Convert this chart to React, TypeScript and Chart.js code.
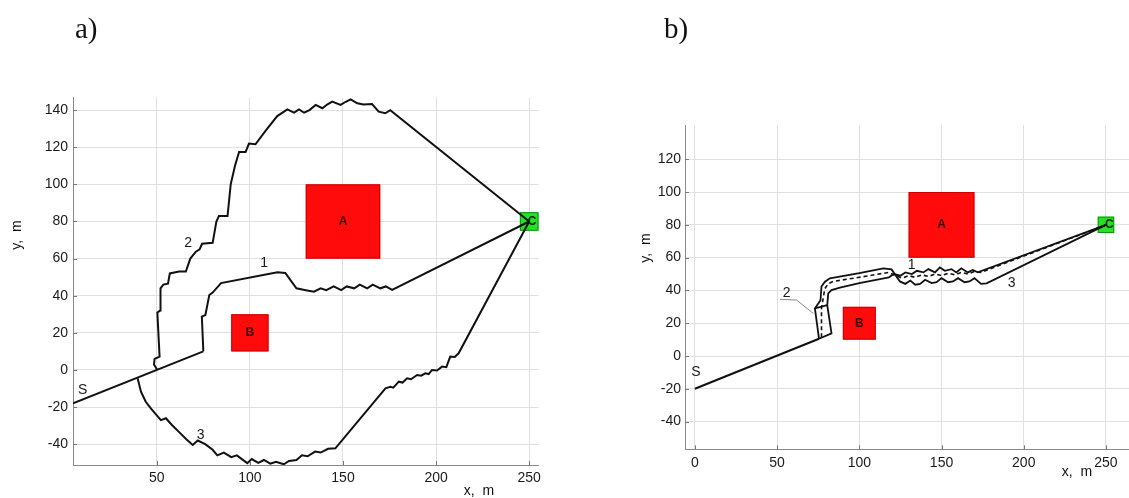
import React, { useEffect, useRef } from 'react';
import { Chart, registerables } from 'chart.js';
Chart.register(...registerables);

type P = [number, number];

// ---------- Panel a ----------
const aXTicks = [50, 100, 150, 200, 250];
const aYTicks = [-40, -20, 0, 20, 40, 60, 80, 100, 120, 140];

const aPathS: P[] = [[5, -18], [75, 10]];
const aPath1: P[] = [
  [75, 10], [74.2, 28.7], [76.1, 29.6], [78.2, 40.4], [80, 41.7], [84.5, 46.8], [114.8, 52.6], [119, 52.3],
  [125, 44], [130, 43], [134.4, 42.2], [138, 44], [141, 43], [145, 45], [149, 43], [152, 45], [156, 44],
  [159, 46], [163, 44], [166, 46], [170, 44], [173, 45], [176.4, 43.1], [250, 80],
];
const aPath2: P[] = [
  [50.3, 0], [48.5, 3], [48.8, 6], [51.5, 7.2], [50.3, 31], [51.8, 32],
  [52, 44], [53.5, 46], [56, 46.5], [57, 52], [62, 53], [65.6, 53], [68, 60], [71, 63.7], [73, 65],
  [74.3, 68], [80, 68.5], [82, 80], [83.4, 83], [88, 83], [89.7, 100], [92, 110], [94.2, 117.5],
  [97.7, 117.5], [99.5, 122], [103, 121.6], [109, 129.6], [114.7, 136.8], [120.1, 140.4], [123.7, 138.7],
  [126.4, 140.4], [129.1, 138.6], [132, 140], [135.3, 142.8], [138.9, 141], [141.5, 143], [144.2, 144.6],
  [148.7, 142.8], [151.5, 144.5], [154.1, 145.8], [157.7, 143.7], [161, 143], [165.6, 143.3],
  [169.2, 139.2], [172.7, 138.3], [175.4, 140], [250, 80],
];
const aPath3: P[] = [
  [39.7, -4.5], [41.5, -11.7], [44, -17], [46.8, -20.7], [50, -24.5], [52.2, -27], [54.9, -26],
  [58, -29.5], [62, -33.5], [66, -37.5], [69.3, -40.4], [72, -38], [76, -40], [80, -43], [82.5, -46],
  [86, -44.5], [90, -47], [93, -46], [98.6, -50.2], [101, -48], [104.5, -50], [107.5, -48.5],
  [111, -50.5], [114, -49.5], [118.2, -50.8], [121, -49], [125, -48.5], [128, -46], [131, -46.5],
  [135, -44], [138, -44.5], [142, -42.5], [145.9, -42.2], [172.8, -9.9], [175.5, -9.1], [177, -9.5],
  [180, -6.3], [182, -6.8], [184.4, -4.5], [186.5, -5], [189.8, -2.7], [192, -3.1], [194.2, -1.8],
  [196, -2.2], [197.8, 0], [200.5, -0.3], [203.2, 1.8], [205.5, 1.5], [207.6, 7.2], [210, 7],
  [212.1, 9], [250, 80],
];

// ---------- Panel b ----------
const bXTicks = [0, 50, 100, 150, 200, 250];
const bYTicks = [-40, -20, 0, 20, 40, 60, 80, 100, 120];

const bPathS: P[] = [[0, -20], [75.5, 10.5]];
const bPath3: P[] = [
  [75.5, 10.5], [73, 29], [76.4, 34], [77, 42.4], [79.1, 45.3], [82.1, 47.4], [100, 50.5], [114.6, 53.4],
  [119.6, 52.8], [124.7, 45.5], [128, 44], [131, 46], [134, 43.5], [137, 44], [140, 46.5], [144, 44.5],
  [147, 45], [150, 47.5], [154, 45], [157, 45.5], [160, 47.5], [164, 45], [167, 45.5], [170, 47.5],
  [174, 44], [177.4, 44.3], [250, 80],
];
const bPath1: P[] = [
  [75.5, 10.5], [83.1, 13.8], [80.5, 31], [81.1, 38.2], [83.1, 40.2], [88.2, 41.7], [100, 44.5],
  [118, 48], [121, 50], [125, 49], [128, 51], [132, 50], [135, 52], [139, 51], [142, 53], [146, 51],
  [149, 54], [152, 52], [156, 53], [159, 51], [162, 53.5], [166, 51], [169, 52.5], [172, 51], [250, 80],
];
const bBoxTop: P[] = [[73, 29], [80.5, 31]];
const bPath2: P[] = [
  [77, 11.5], [77, 29], [78, 35], [79, 41], [81, 44], [84, 45.5], [100, 48], [118, 51], [122, 49],
  [126, 47.5], [130, 49], [134, 48], [138, 49.5], [142, 48.5], [146, 50], [150, 49], [154, 50.5],
  [158, 49.5], [162, 51], [166, 50], [170, 51.5], [174, 51], [250, 80],
];
const bLeader: P[] = [[51.7, 34.6], [61.9, 34.1], [72, 26]];

// obstacles [x0, x1, y0, y1]
const rectA = [130, 170, 60, 100];
const rectB = [90, 110, 10, 30];
const rectC = [245, 255, 75, 85];

const FONT = "'Liberation Sans', Arial, sans-serif";
const SERIF = "'Liberation Serif', 'Times New Roman', serif";

type TextItem = { x: number; y: number; t: string; font: string; color?: string };
type PixText = { x: number; y: number; t: string; font: string; rot?: number; align?: CanvasTextAlign };

const toData = (pts: P[]) => pts.map(([x, y]) => ({ x, y }));

function line(pts: P[], opts: any = {}) {
  return {
    data: toData(pts),
    showLine: true,
    borderColor: '#111',
    borderWidth: 2,
    pointRadius: 0,
    fill: false,
    tension: 0,
    ...opts,
  };
}

function decorPlugin(rects: { r: number[]; fill: string; stroke: string }[], texts: TextItem[], pix: PixText[]) {
  return {
    id: 'decor',
    beforeDatasetsDraw(chart: any) {
      const { ctx, scales } = chart;
      const xs = scales.x, ys = scales.y;
      ctx.save();
      for (const { r, fill, stroke } of rects) {
        const x0 = xs.getPixelForValue(r[0]);
        const x1 = xs.getPixelForValue(r[1]);
        const y0 = ys.getPixelForValue(r[3]);
        const y1 = ys.getPixelForValue(r[2]);
        ctx.fillStyle = fill;
        ctx.fillRect(x0, y0, x1 - x0, y1 - y0);
        ctx.strokeStyle = stroke;
        ctx.lineWidth = 1;
        ctx.strokeRect(x0 + 0.5, y0 + 0.5, x1 - x0 - 1, y1 - y0 - 1);
      }
      ctx.restore();
    },
    afterDatasetsDraw(chart: any) {
      const { ctx, scales, chartArea } = chart;
      const xs = scales.x, ys = scales.y;
      ctx.save();
      // inward ticks
      ctx.strokeStyle = '#777';
      ctx.lineWidth = 1;
      for (const tk of xs.ticks) {
        const px = Math.round(xs.getPixelForValue(tk.value)) + 0.5;
        ctx.beginPath();
        ctx.moveTo(px, chartArea.bottom);
        ctx.lineTo(px, chartArea.bottom - 4);
        ctx.stroke();
      }
      for (const tk of ys.ticks) {
        const py = Math.round(ys.getPixelForValue(tk.value)) + 0.5;
        ctx.beginPath();
        ctx.moveTo(chartArea.left, py);
        ctx.lineTo(chartArea.left + 4, py);
        ctx.stroke();
      }
      ctx.textAlign = 'center';
      ctx.textBaseline = 'middle';
      for (const it of texts) {
        ctx.font = it.font;
        ctx.fillStyle = it.color || '#1a1a1a';
        ctx.fillText(it.t, xs.getPixelForValue(it.x), ys.getPixelForValue(it.y));
      }
      for (const it of pix) {
        ctx.save();
        ctx.translate(it.x, it.y);
        if (it.rot) ctx.rotate(it.rot);
        ctx.font = it.font;
        ctx.fillStyle = '#111';
        ctx.textAlign = it.align || 'center';
        ctx.textBaseline = it.align === 'left' ? 'alphabetic' : 'middle';
        ctx.fillText(it.t, 0, 0);
        ctx.restore();
      }
      ctx.restore();
    },
  };
}

function makeConfig(p: any) {
  return {
    type: 'scatter',
    data: { datasets: p.datasets },
    options: {
      animation: false,
      responsive: false,
      maintainAspectRatio: false,
      events: [],
      layout: { padding: { left: 0, right: p.padRight, top: p.padTop, bottom: 0 } },
      plugins: { legend: { display: false }, tooltip: { enabled: false } },
      scales: {
        x: {
          type: 'linear',
          min: p.xMin,
          max: p.xMax,
          afterBuildTicks: (s: any) => { s.ticks = p.xTicks.map((v: number) => ({ value: v })); },
          afterFit: (s: any) => { s.height = p.xHeight; },
          grid: { color: '#e0e0e0', lineWidth: 1, drawTicks: false },
          border: { display: true, color: '#8a8a8a', width: 1 },
          ticks: { padding: p.xPad, color: '#1a1a1a', font: { family: FONT, size: 14 }, maxRotation: 0, autoSkip: false },
        },
        y: {
          type: 'linear',
          min: p.yMin,
          max: p.yMax,
          afterBuildTicks: (s: any) => { s.ticks = p.yTicks.map((v: number) => ({ value: v })); },
          afterFit: (s: any) => { s.width = p.yWidth; },
          grid: { color: '#e0e0e0', lineWidth: 1, drawTicks: false },
          border: { display: true, color: '#8a8a8a', width: 1 },
          ticks: { padding: p.yPad, color: '#1a1a1a', font: { family: FONT, size: 14 }, autoSkip: false },
        },
      },
    },
    plugins: [decorPlugin(p.rects, p.texts, p.pix)],
  };
}

const obstacleRects = [
  { r: rectA, fill: '#ff0b0b', stroke: '#c80000' },
  { r: rectB, fill: '#ff0b0b', stroke: '#c80000' },
  { r: rectC, fill: '#22e222', stroke: '#109010' },
];

const panelA = {
  xMin: 5, xMax: 255, yMin: -51.2, yMax: 146.8,
  xTicks: aXTicks, yTicks: aYTicks,
  yWidth: 73, xHeight: 33, padTop: 97.5, padRight: 21.5, xPad: 5, yPad: 5,
  datasets: [line(aPathS), line(aPath1), line(aPath2), line(aPath3)],
  rects: obstacleRects,
  texts: [
    { x: 150, y: 80, t: 'A', font: `bold 12px ${FONT}`, color: '#3a0000' },
    { x: 100, y: 20, t: 'B', font: `bold 12px ${FONT}`, color: '#3a0000' },
    { x: 251.5, y: 80, t: 'C', font: `bold 12px ${FONT}`, color: '#102010' },
    { x: 107.6, y: 57.5, t: '1', font: `14px ${FONT}` },
    { x: 66.8, y: 68.2, t: '2', font: `14px ${FONT}` },
    { x: 73.6, y: -35, t: '3', font: `14px ${FONT}` },
    { x: 10.2, y: -10.8, t: 'S', font: `14px ${FONT}` },
  ],
  pix: [
    { x: 75, y: 38, t: 'a)', font: `29px ${SERIF}`, align: 'left' as CanvasTextAlign },
    { x: 17, y: 235, t: 'y,  m', font: `14px ${FONT}`, rot: -Math.PI / 2 },
    { x: 479, y: 491, t: 'x,  m', font: `14px ${FONT}` },
  ],
};

const panelB = {
  xMin: -6, xMax: 264, yMin: -56.9, yMax: 140.9,
  xTicks: bXTicks, yTicks: bYTicks,
  yWidth: 125, xHeight: 48.7, padTop: 125, padRight: 0, xPad: 5, yPad: 4,
  datasets: [
    line(bLeader, { borderColor: '#888', borderWidth: 1 }),
    line(bPathS),
    line(bPath3, { borderWidth: 1.8 }),
    line(bPath1, { borderWidth: 1.8 }),
    line(bBoxTop, { borderWidth: 1.8 }),
    line(bPath2, { borderWidth: 1.6, borderDash: [4, 3] }),
  ],
  rects: obstacleRects,
  texts: [
    { x: 150, y: 80, t: 'A', font: `bold 12px ${FONT}`, color: '#3a0000' },
    { x: 100, y: 20, t: 'B', font: `bold 12px ${FONT}`, color: '#3a0000' },
    { x: 252, y: 80, t: 'C', font: `bold 12px ${FONT}`, color: '#102010' },
    { x: 131.8, y: 55.5, t: '1', font: `14px ${FONT}` },
    { x: 55.8, y: 38.6, t: '2', font: `14px ${FONT}` },
    { x: 192.6, y: 44.7, t: '3', font: `14px ${FONT}` },
    { x: 0.6, y: -9.6, t: 'S', font: `14px ${FONT}` },
  ],
  pix: [
    { x: 104, y: 38, t: 'b)', font: `29px ${SERIF}`, align: 'left' as CanvasTextAlign },
    { x: 86, y: 248, t: 'y,  m', font: `14px ${FONT}`, rot: -Math.PI / 2 },
    { x: 517, y: 472, t: 'x,  m', font: `14px ${FONT}` },
  ],
};

export default function App() {
  const refA = useRef<HTMLCanvasElement>(null);
  const refB = useRef<HTMLCanvasElement>(null);
  useEffect(() => {
    const ca = new Chart(refA.current as HTMLCanvasElement, makeConfig(panelA) as any);
    const cb = new Chart(refB.current as HTMLCanvasElement, makeConfig(panelB) as any);
    return () => { ca.destroy(); cb.destroy(); };
  }, []);
  return (
    <div style={{ position: 'fixed', left: 0, top: 0, width: 1129, height: 498, background: '#fff', overflow: 'hidden' }}>
      <canvas ref={refA} width={560} height={498} style={{ position: 'absolute', left: 0, top: 0, width: 560, height: 498 }} />
      <canvas ref={refB} width={569} height={498} style={{ position: 'absolute', left: 560, top: 0, width: 569, height: 498 }} />
    </div>
  );
}
